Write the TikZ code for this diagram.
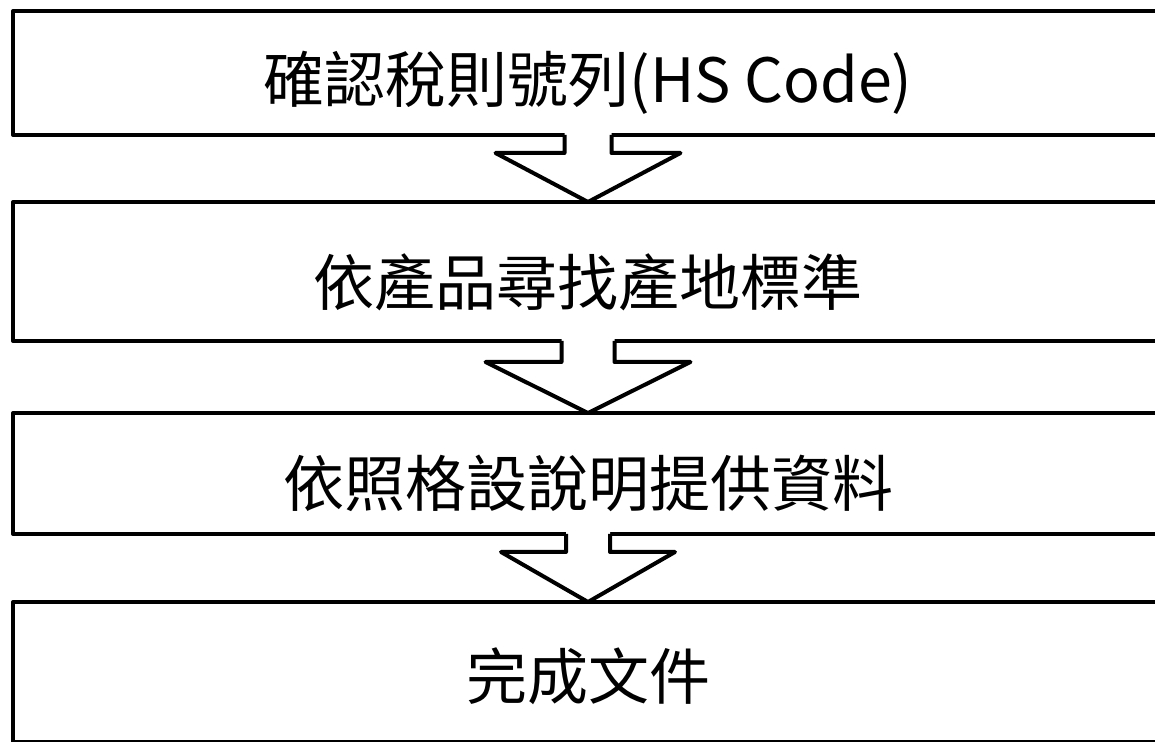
\documentclass[tikz,border=0pt]{standalone}
\usepackage{fontspec}
\setmainfont{Noto Sans CJK TC}
\usetikzlibrary{calc}

\tikzset{
	stagebox/.style={draw, line width=4pt, line join=round, outer sep=0pt,
		minimum width=1150pt, font=\fontsize{61pt}{70pt}\selectfont, text depth=7.3pt},
	flowline/.style={line width=4pt, line join=round}
}

% #1 from, #2 to, #3 shaft half width, #4 head half width, #5 shaft length
\newcommand\flowarrow[5]{%
	\fill [white] ($(#1.south)+(-#3pt,4pt)$) -- ($(#1.south)+(-#3pt,-#5pt)$)
		-- ($(#1.south)+(-#4pt,-#5pt)$) -- (#2.north) -- ($(#1.south)+(#4pt,-#5pt)$)
		-- ($(#1.south)+(#3pt,-#5pt)$) -- ($(#1.south)+(#3pt,4pt)$) -- cycle;
	\draw [flowline] ($(#1.south)+(-#3pt,0)$) -- ($(#1.south)+(-#3pt,-#5pt)$)
		-- ($(#1.south)+(-#4pt,-#5pt)$) -- (#2.north) -- ($(#1.south)+(#4pt,-#5pt)$)
		-- ($(#1.south)+(#3pt,-#5pt)$) -- ($(#1.south)+(#3pt,0)$);
}

\begin{document}
\begin{tikzpicture}
	\useasboundingbox (0,0) rectangle (1155pt,741pt);
	\clip (0,0) rectangle (1155pt,741pt);
	\node [stagebox, minimum height=124pt, text height=65.7pt] (hscode) at (588pt,668pt) {確認稅則號列(HS Code)};
	\node [stagebox, minimum height=139pt, text height=75.7pt] (origin) at (588pt,469.5pt) {依產品尋找產地標準};
	\node [stagebox, minimum height=121pt, text height=73.7pt] (data) at (588pt,267.5pt) {依照格設說明提供資料};
	\node [stagebox, minimum height=140pt, text height=61.7pt] (done) at (588pt,69pt) {完成文件};
	\flowarrow{hscode}{origin}{23.5}{92.5}{18}
	\flowarrow{origin}{data}{26.5}{102.5}{21}
	\flowarrow{data}{done}{22}{87}{18}
\end{tikzpicture}
\end{document}
